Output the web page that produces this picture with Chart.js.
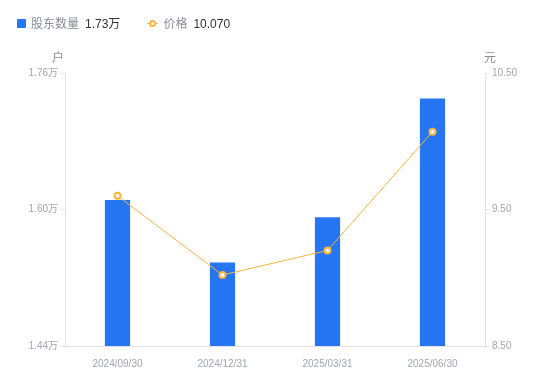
<!DOCTYPE html>
<html>
<head>
<meta charset="utf-8">
<script src="https://cdn.jsdelivr.net/npm/chart.js@4.4.1/dist/chart.umd.min.js"></script>
<style>
    html, body { margin: 0; padding: 0; background: #fff; }
    body { width: 550px; height: 381px; position: relative; overflow: hidden;
           font-family: Arial, "Liberation Sans", "Noto Sans CJK SC", sans-serif; }
    #legend { position: absolute; left: 17px; top: 16px; font-size: 12px; line-height: 16px; white-space: nowrap; }
    .item { display: inline-block; margin-right: 27px; }
    .name { color: #8a8c99; margin-right: 6px; }
    .val { color: #333; }
    .sq { display: inline-block; width: 9px; height: 9px; background: #2676f3; border-radius: 1px; margin-right: 5px; vertical-align: -0px; }
    .ln { display: inline-block; position: relative; width: 11px; height: 9px; margin-right: 5px; vertical-align: 0px; }
    .ln:before { content: ""; position: absolute; left: 0; right: 0; top: 4px; height: 1px; background: #f7b53b; }
    .ln:after { content: ""; position: absolute; left: 2px; top: 1px; width: 3px; height: 3px; border: 2px solid #f7b53b; border-radius: 50%; background: #fff; }
    #wrap { position: absolute; left: 0; top: 0; width: 550px; height: 381px; }
</style>
</head>
<body>
<div id="wrap"><canvas id="chart" width="550" height="381"></canvas></div>
<div id="legend"></div>
<script>
// chart data
const dates = ['2024/09/30', '2024/12/31', '2025/03/31', '2025/06/30'];
const holders = [1.611, 1.538, 1.591, 1.730];   // 万户
const prices = [9.60, 9.02, 9.20, 10.07];        // 元
const holderTicks = [1.44, 1.60, 1.76];
const priceTicks = [8.50, 9.50, 10.50];

const blue = '#2676f3';
const orange = '#f7b53b';
const tickColor = '#a3a6b4';
const axisColor = '#e3e3e6';

// legend, last values
const legendBox = document.getElementById('legend');
legendBox.innerHTML =
    `<span class="item"><span class="sq"></span><span class="name">股东数量</span><span class="val">${holders[holders.length - 1].toFixed(2)}万</span></span>` +
    `<span class="item"><span class="ln"></span><span class="name">价格</span><span class="val">${prices[prices.length - 1].toFixed(3)}</span></span>`;

// unit labels above each y axis
const unitTitles = {
    id: 'unitTitles',
    afterDraw(chart) {
        const ctx = chart.ctx;
        const area = chart.chartArea;
        ctx.save();
        ctx.font = '12px "Noto Sans CJK SC", sans-serif';
        ctx.fillStyle = '#8a8c99';
        ctx.textAlign = 'center';
        ctx.textBaseline = 'middle';
        ctx.fillText('户', area.left - 7, area.top - 16);
        ctx.fillText('元', area.right + 5, area.top - 16);
        ctx.restore();
    }
};

function fixedTicks(list) {
    return function (axis) {
        axis.ticks = list.map(v => ({ value: v }));
    };
}

const tickFont = { size: 10, family: 'Arial, "Liberation Sans", "Noto Sans CJK SC", sans-serif' };

new Chart(document.getElementById('chart').getContext('2d'), {
    data: {
        labels: dates,
        datasets: [
            {
                type: 'line',
                label: '价格',
                data: prices,
                yAxisID: 'yPrice',
                borderColor: orange,
                borderWidth: 1,
                pointRadius: 3,
                pointBorderWidth: 2,
                pointBackgroundColor: '#fff',
                pointBorderColor: orange,
                tension: 0,
                order: 0
            },
            {
                type: 'bar',
                label: '股东数量',
                data: holders,
                yAxisID: 'yHolders',
                backgroundColor: blue,
                barPercentage: 0.24,
                categoryPercentage: 1,
                order: 1
            }
        ]
    },
    options: {
        responsive: false,
        animation: false,
        layout: { padding: { top: 73, left: 0, right: 0, bottom: 0 } },
        plugins: { legend: { display: false }, tooltip: { enabled: false } },
        scales: {
            x: {
                grid: { display: false },
                border: { display: true, color: axisColor },
                ticks: { color: tickColor, font: tickFont, padding: 4 },
                afterFit(axis) { axis.height = 35; }
            },
            yHolders: {
                position: 'left',
                min: holderTicks[0],
                max: holderTicks[holderTicks.length - 1],
                afterBuildTicks: fixedTicks(holderTicks),
                grid: { drawOnChartArea: false, tickLength: 4, color: axisColor },
                border: { display: true, color: axisColor },
                ticks: { color: tickColor, font: tickFont, padding: 3,
                         callback: v => v.toFixed(2) + '万' },
                afterFit(axis) { axis.width = 65; }
            },
            yPrice: {
                position: 'right',
                min: priceTicks[0],
                max: priceTicks[priceTicks.length - 1],
                afterBuildTicks: fixedTicks(priceTicks),
                grid: { drawOnChartArea: false, tickLength: 4, color: axisColor },
                border: { display: true, color: axisColor },
                ticks: { color: tickColor, font: tickFont, padding: 3,
                         callback: v => v.toFixed(2) },
                afterFit(axis) { axis.width = 65; }
            }
        }
    },
    plugins: [unitTitles]
});
</script>
</body>
</html>
